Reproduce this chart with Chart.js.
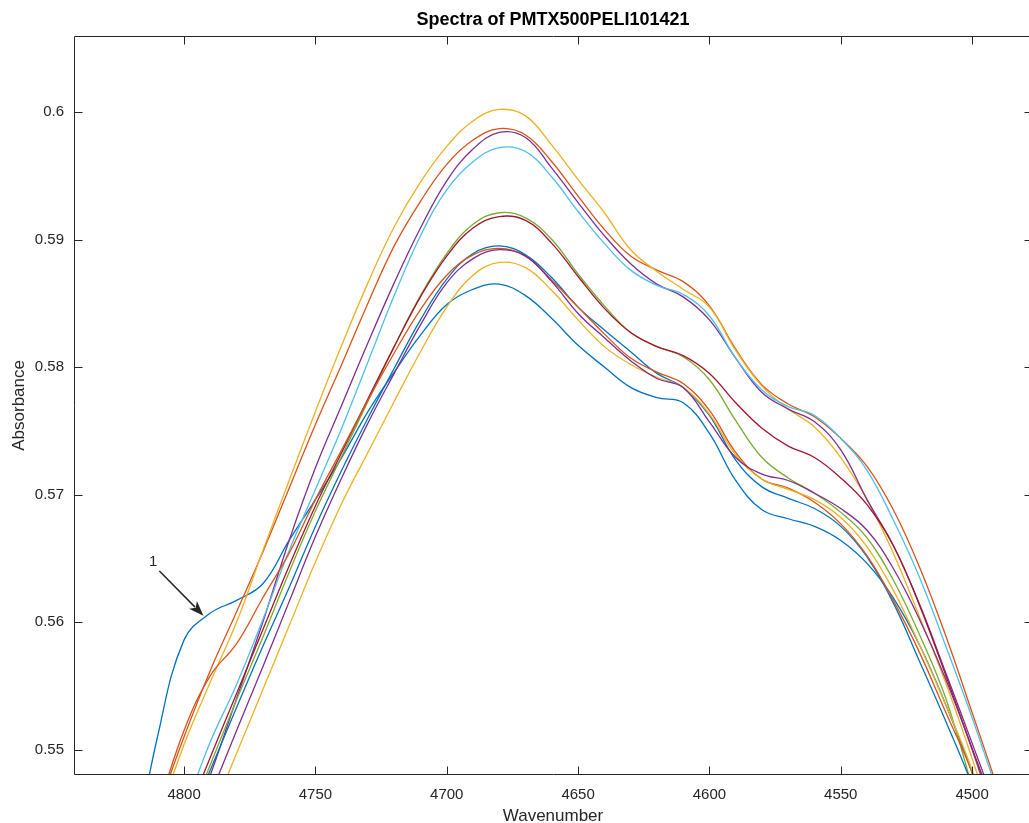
<!DOCTYPE html>
<html>
<head>
<meta charset="utf-8">
<title>Spectra of PMTX500PELI101421</title>
<script src="https://cdn.jsdelivr.net/npm/chart.js@4.4.0/dist/chart.umd.min.js"></script>
<style>
  html, body { margin: 0; padding: 0; background: #fff; }
  #wrap { width: 1029px; height: 823px; overflow: hidden; position: relative; }
  canvas { display: block; }
</style>
</head>
<body>
<div id="wrap"><canvas id="spectra-chart" width="1106" height="823"></canvas></div>
<script>
// wavenumber grid (cm-1), values every 10 units
const wavenumber = [4820, 4810, 4800, 4790, 4780, 4770, 4760, 4750, 4740, 4730, 4720, 4710,
    4700, 4690, 4680, 4670, 4660, 4650, 4640, 4630, 4620, 4610, 4600, 4590, 4580, 4570,
    4560, 4550, 4540, 4530, 4520, 4510, 4500, 4490, 4480];

const spectrum1 = [0.5407, 0.5511, 0.5586, 0.5607, 0.5617, 0.5630, 0.5664, 0.5696, 0.5729, 0.5765, 0.5796, 0.5825,
    0.5849, 0.5861, 0.5865, 0.5856, 0.5838, 0.5817, 0.5800, 0.5784, 0.5776, 0.5772, 0.5748, 0.5711, 0.5688, 0.5681,
    0.5675, 0.5664, 0.5646, 0.5619, 0.5582, 0.5535, 0.5482, 0.5421, 0.5360];
const spectrum2 = [0.5396, 0.5453, 0.5510, 0.5562, 0.5608, 0.5655, 0.5705, 0.5755, 0.5802, 0.5850, 0.5895, 0.5930,
    0.5959, 0.5978, 0.5987, 0.5982, 0.5961, 0.5934, 0.5908, 0.5887, 0.5876, 0.5867, 0.5848, 0.5814, 0.5786, 0.5771,
    0.5761, 0.5744, 0.5722, 0.5688, 0.5643, 0.5589, 0.5529, 0.5468, 0.5405];
const spectrum3 = [0.5386, 0.5445, 0.5504, 0.5553, 0.5600, 0.5656, 0.5711, 0.5765, 0.5817, 0.5866, 0.5910, 0.5945,
    0.5973, 0.5993, 0.6002, 0.5997, 0.5974, 0.5947, 0.5921, 0.5892, 0.5875, 0.5861, 0.5847, 0.5813, 0.5785, 0.5767,
    0.5753, 0.5729, 0.5696, 0.5654, 0.5604, 0.5552, 0.5493, 0.5429, 0.5365];
const spectrum4 = [0.5315, 0.5370, 0.5425, 0.5480, 0.5540, 0.5600, 0.5664, 0.5721, 0.5770, 0.5819, 0.5866, 0.5909,
    0.5946, 0.5971, 0.5984, 0.5980, 0.5956, 0.5929, 0.5903, 0.5881, 0.5865, 0.5855, 0.5837, 0.5807, 0.5780, 0.5767,
    0.5757, 0.5735, 0.5696, 0.5660, 0.5614, 0.5560, 0.5505, 0.5449, 0.5390];
const spectrum5 = [0.5335, 0.5386, 0.5437, 0.5488, 0.5539, 0.5588, 0.5639, 0.5687, 0.5730, 0.5773, 0.5816, 0.5856,
    0.5889, 0.5912, 0.5921, 0.5917, 0.5900, 0.5873, 0.5848, 0.5827, 0.5816, 0.5808, 0.5790, 0.5758, 0.5729, 0.5713,
    0.5701, 0.5686, 0.5666, 0.5633, 0.5590, 0.5540, 0.5471, 0.5400, 0.5330];
const spectrum6 = [0.5341, 0.5396, 0.5451, 0.5506, 0.5551, 0.5602, 0.5656, 0.5704, 0.5752, 0.5804, 0.5856, 0.5903,
    0.5939, 0.5961, 0.5972, 0.5969, 0.5949, 0.5922, 0.5897, 0.5876, 0.5864, 0.5857, 0.5840, 0.5807, 0.5782, 0.5769,
    0.5762, 0.5744, 0.5719, 0.5680, 0.5635, 0.5581, 0.5525, 0.5464, 0.5400];
const spectrum7 = [0.5341, 0.5392, 0.5443, 0.5494, 0.5544, 0.5594, 0.5644, 0.5691, 0.5733, 0.5775, 0.5816, 0.5855,
    0.5887, 0.5909, 0.5918, 0.5915, 0.5897, 0.5871, 0.5846, 0.5827, 0.5816, 0.5809, 0.5795, 0.5772, 0.5752, 0.5738,
    0.5729, 0.5713, 0.5692, 0.5660, 0.5613, 0.5558, 0.5501, 0.5445, 0.5385];
const spectrum8 = [0.5341, 0.5389, 0.5437, 0.5484, 0.5533, 0.5581, 0.5627, 0.5675, 0.5719, 0.5760, 0.5799, 0.5837,
    0.5869, 0.5889, 0.5895, 0.5888, 0.5870, 0.5847, 0.5829, 0.5812, 0.5795, 0.5784, 0.5762, 0.5727, 0.5706, 0.5697,
    0.5689, 0.5675, 0.5651, 0.5615, 0.5569, 0.5522, 0.5472, 0.5410, 0.5350];
const spectrum9 = [0.5390, 0.5453, 0.5515, 0.5558, 0.5583, 0.5619, 0.5654, 0.5696, 0.5735, 0.5774, 0.5811, 0.5845,
    0.5872, 0.5888, 0.5893, 0.5887, 0.5868, 0.5847, 0.5826, 0.5807, 0.5796, 0.5787, 0.5766, 0.5733, 0.5712, 0.5705,
    0.5694, 0.5677, 0.5652, 0.5617, 0.5576, 0.5529, 0.5482, 0.5420, 0.5360];
const spectrum10 = [0.5300, 0.5349, 0.5398, 0.5447, 0.5497, 0.5547, 0.5597, 0.5647, 0.5693, 0.5733, 0.5773, 0.5812,
    0.5847, 0.5872, 0.5882, 0.5878, 0.5860, 0.5837, 0.5816, 0.5802, 0.5792, 0.5784, 0.5763, 0.5731, 0.5712, 0.5704,
    0.5696, 0.5682, 0.5659, 0.5625, 0.5582, 0.5535, 0.5484, 0.5420, 0.5360];
const spectrum11 = [0.5311, 0.5362, 0.5413, 0.5464, 0.5515, 0.5565, 0.5616, 0.5667, 0.5713, 0.5756, 0.5795, 0.5833,
    0.5866, 0.5885, 0.5892, 0.5887, 0.5867, 0.5842, 0.5823, 0.5805, 0.5791, 0.5784, 0.5757, 0.5729, 0.5716, 0.5711,
    0.5701, 0.5689, 0.5672, 0.5642, 0.5602, 0.5555, 0.5500, 0.5437, 0.5375];

const spectra = [spectrum1, spectrum2, spectrum3, spectrum4, spectrum5, spectrum6,
    spectrum7, spectrum8, spectrum9, spectrum10, spectrum11];

// MATLAB default line order
const lineColors = ['#0072BD', '#D95319', '#EDB120', '#7E2F8E', '#77AC30', '#4DBEEE',
    '#A2142F', '#0072BD', '#D95319', '#EDB120', '#7E2F8E'];

// annotation "1" with arrow, in data units
const annotationText = '1';
const annotationLabelAt = [4811.8, 0.5647];
const arrowFrom = [4809.4, 0.5640];
const arrowTo = [4792.6, 0.5605];

const axisColor = '#262626';
const tickLen = 8;
const yMin = 0.54808, yMax = 0.6059;

const matlabFrame = {
    id: 'matlabFrame',
    afterDatasetsDraw(chart) {
        const {ctx, chartArea, scales: {x, y}} = chart;
        const left = Math.floor(chartArea.left) + 0.5;
        const right = Math.floor(chartArea.right) + 0.5;
        const top = Math.floor(chartArea.top) + 0.5;
        const bottom = Math.floor(chartArea.bottom) + 0.5;

        ctx.save();
        ctx.strokeStyle = axisColor;
        ctx.lineWidth = 1;
        ctx.beginPath();
        ctx.moveTo(left, top);
        ctx.lineTo(right, top);
        ctx.lineTo(right, bottom);
        ctx.lineTo(left, bottom);
        ctx.closePath();
        x.ticks.forEach((t) => {
            const px = Math.round(x.getPixelForValue(t.value)) + 0.5;
            ctx.moveTo(px, bottom);
            ctx.lineTo(px, bottom - tickLen);
            ctx.moveTo(px, top);
            ctx.lineTo(px, top + tickLen);
        });
        y.ticks.forEach((t) => {
            const py = Math.round(y.getPixelForValue(t.value)) + 0.5;
            ctx.moveTo(left, py);
            ctx.lineTo(left + tickLen, py);
            ctx.moveTo(right, py);
            ctx.lineTo(right - tickLen, py);
        });
        ctx.stroke();

        // arrow
        const x0 = x.getPixelForValue(arrowFrom[0]);
        const y0 = y.getPixelForValue(arrowFrom[1]);
        const x1 = x.getPixelForValue(arrowTo[0]);
        const y1 = y.getPixelForValue(arrowTo[1]);
        const ang = Math.atan2(y1 - y0, x1 - x0);
        const headLen = 15, headHalf = 5.5;
        const bx = x1 - headLen * Math.cos(ang);
        const by = y1 - headLen * Math.sin(ang);
        ctx.strokeStyle = axisColor;
        ctx.fillStyle = axisColor;
        ctx.lineWidth = 1.5;
        ctx.beginPath();
        ctx.moveTo(x0, y0);
        ctx.lineTo(bx + 3 * Math.cos(ang), by + 3 * Math.sin(ang));
        ctx.stroke();
        ctx.beginPath();
        ctx.moveTo(x1, y1);
        ctx.lineTo(bx - headHalf * Math.sin(ang), by + headHalf * Math.cos(ang));
        ctx.lineTo(bx + 4 * Math.cos(ang), by + 4 * Math.sin(ang));
        ctx.lineTo(bx + headHalf * Math.sin(ang), by - headHalf * Math.cos(ang));
        ctx.closePath();
        ctx.fill();

        ctx.font = '15px "Liberation Sans", Arial, sans-serif';
        ctx.textAlign = 'center';
        ctx.textBaseline = 'middle';
        ctx.fillText(annotationText, x.getPixelForValue(annotationLabelAt[0]), y.getPixelForValue(annotationLabelAt[1]));
        ctx.restore();
    }
};

Chart.defaults.font.family = '"Liberation Sans", Arial, Helvetica, sans-serif';
Chart.defaults.color = axisColor;

const datasets = spectra.map((values, i) => ({
    label: 'Spectrum ' + (i + 1),
    data: wavenumber.map((w, j) => ({x: w, y: values[j]})),
    borderColor: lineColors[i],
    borderWidth: 1.3,
    pointRadius: 0,
    fill: false,
    tension: 0.4,
    order: spectra.length - i,
}));

const ctx = document.getElementById('spectra-chart').getContext('2d');
new Chart(ctx, {
    type: 'line',
    data: {datasets: datasets},
    options: {
        responsive: false,
        animation: false,
        devicePixelRatio: 1,
        events: [],
        layout: {padding: 0},
        plugins: {
            legend: {display: false},
            tooltip: {enabled: false},
            title: {
                display: true,
                text: 'Spectra of PMTX500PELI101421',
                color: '#000',
                font: {size: 18, weight: 'bold', lineHeight: 1.1},
                padding: {top: 10, bottom: 7},
            },
        },
        scales: {
            x: {
                type: 'linear',
                reverse: true,
                min: 4477.2,
                max: 4841.9,
                grid: {display: false, drawTicks: false},
                border: {display: false},
                ticks: {
                    stepSize: 50,
                    includeBounds: false,
                    padding: 12,
                    maxRotation: 0,
                    autoSkip: false,
                    font: {size: 15},
                    callback: (v) => String(v),
                },
                title: {
                    display: true,
                    text: 'Wavenumber',
                    font: {size: 17, lineHeight: 0.75},
                    padding: {top: 0, bottom: 0},
                },
                afterFit: (scale) => { scale.height = 49; },
            },
            y: {
                type: 'linear',
                min: yMin,
                max: yMax,
                grid: {display: false, drawTicks: false},
                border: {display: false},
                ticks: {
                    stepSize: 0.01,
                    includeBounds: false,
                    padding: 10,
                    font: {size: 15},
                    callback: (v) => String(parseFloat(v.toFixed(2))),
                },
                title: {
                    display: true,
                    text: 'Absorbance',
                    font: {size: 17},
                    padding: {top: 9, bottom: 0},
                },
                afterFit: (scale) => { scale.width = 74; },
            },
            // empty right-hand axis: keeps the plot box centred like the MATLAB figure
            yRight: {
                type: 'linear',
                position: 'right',
                min: yMin,
                max: yMax,
                grid: {display: false, drawTicks: false},
                border: {display: false},
                ticks: {display: false},
                afterFit: (scale) => { scale.width = 74; },
            },
        },
    },
    plugins: [matlabFrame],
});
</script>
</body>
</html>
